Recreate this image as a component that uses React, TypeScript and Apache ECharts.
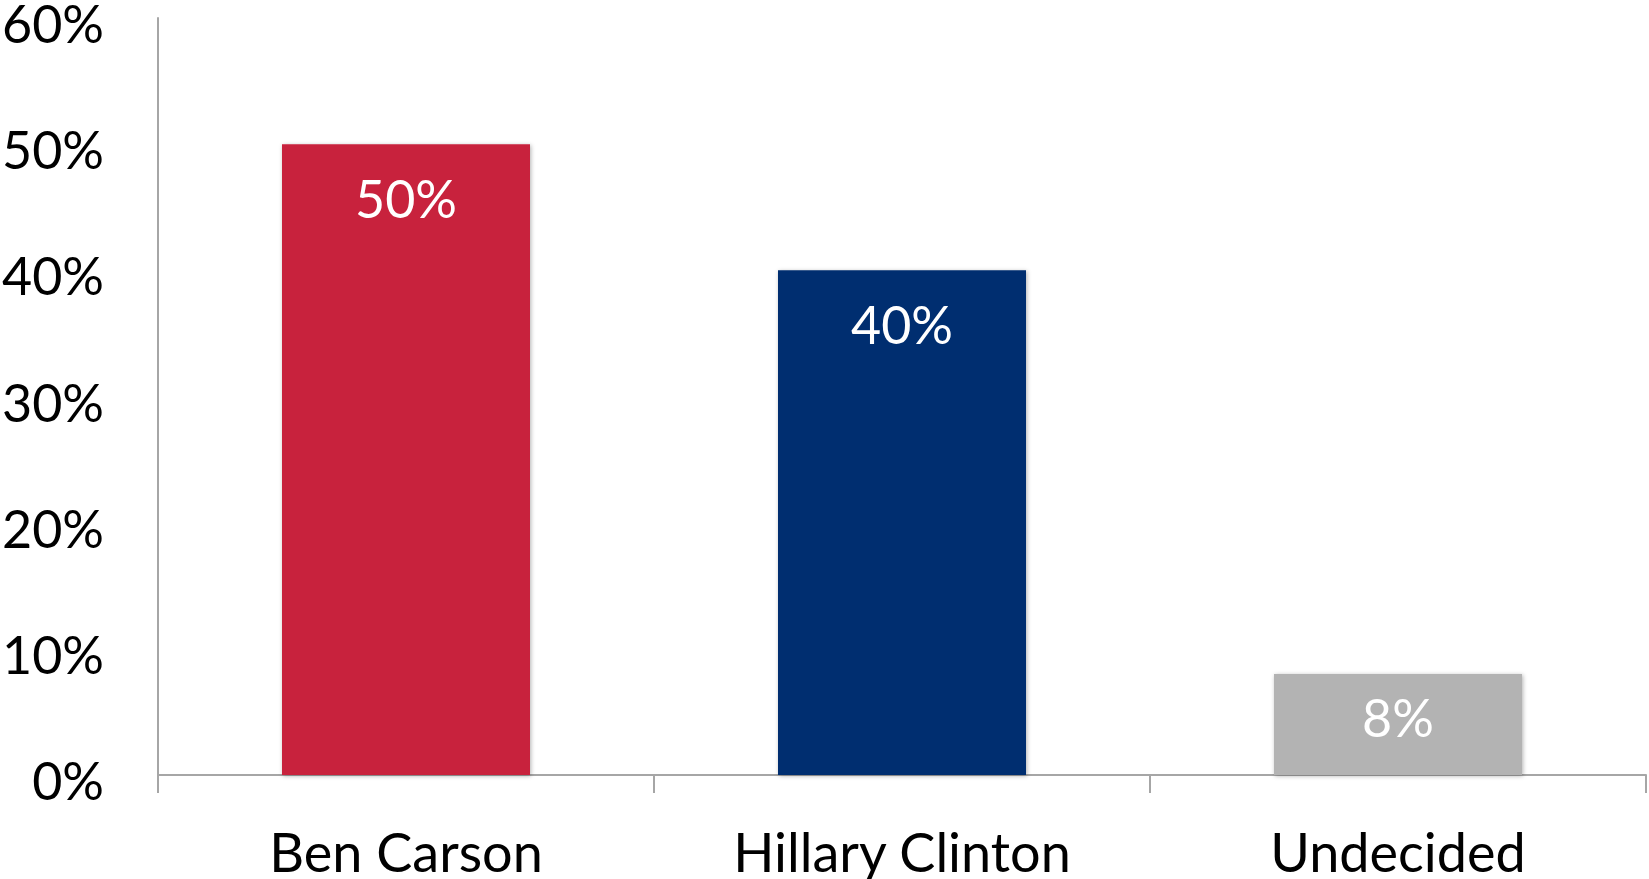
import React, { useEffect, useRef } from "react";
import * as echarts from "echarts";

const categories = ["Ben Carson", "Hillary Clinton", "Undecided"];
const values = [0.5, 0.4, 0.08];
const barColors = ["#C8223C", "#002F6F", "#B3B3B3"];
const labelDistances = [28, 28, 17];
const yTicks = { min: 0, max: 0.6, interval: 0.1 };

export default function App() {
  const ref = useRef<HTMLDivElement>(null);
  useEffect(() => {
    document.body.style.margin = "0";
    const chart = echarts.init(ref.current!, null, { renderer: "svg" });
    const font = "Lato, 'Open Sans', sans-serif";
    chart.setOption({
      animation: false,
      backgroundColor: "#ffffff",
      grid: {
        left: 158,
        right: 3,
        top: 18,
        bottom: 104,
        containLabel: false,
        outerBoundsMode: "none",
      },
      xAxis: {
        type: "category",
        data: categories,
        axisLine: { show: true, lineStyle: { color: "#A6A6A6", width: 2 } },
        axisTick: { show: true, alignWithLabel: false, length: 18, lineStyle: { color: "#A6A6A6", width: 2 } },
        axisLabel: { color: "#000000", fontSize: 54, fontFamily: font, margin: 49 },
      },
      yAxis: {
        type: "value",
        min: yTicks.min,
        max: yTicks.max,
        interval: yTicks.interval,
        axisLine: { show: true, lineStyle: { color: "#A6A6A6", width: 2 } },
        axisTick: { show: false },
        splitLine: { show: false },
        axisLabel: {
          color: "#000000",
          fontSize: 52,
          fontFamily: font,
          margin: 54,
          verticalAlign: "top",
          lineHeight: 10,
          formatter: (v: number) => Math.round(v * 100) + "%",
        },
      },
      series: [
        {
          type: "bar",
          barCategoryGap: "50%",
          data: values.map((v, i) => ({
            value: v,
            itemStyle: {
              color: barColors[i],
              shadowBlur: 4,
              shadowColor: "rgba(0,0,0,0.3)",
              shadowOffsetX: 1,
              shadowOffsetY: 1,
            },
            label: { distance: labelDistances[i] },
          })),
          label: {
            show: true,
            position: "insideTop",
            distance: 28,
            color: "#ffffff",
            fontSize: 52,
            fontFamily: font,
            formatter: (p: any) => Math.round(p.value * 100) + "%",
          },
        },
      ],
    });
    return () => chart.dispose();
  }, []);
  return <div ref={ref} style={{ position: "absolute", left: 0, top: 0, width: 1649, height: 879 }} />;
}
